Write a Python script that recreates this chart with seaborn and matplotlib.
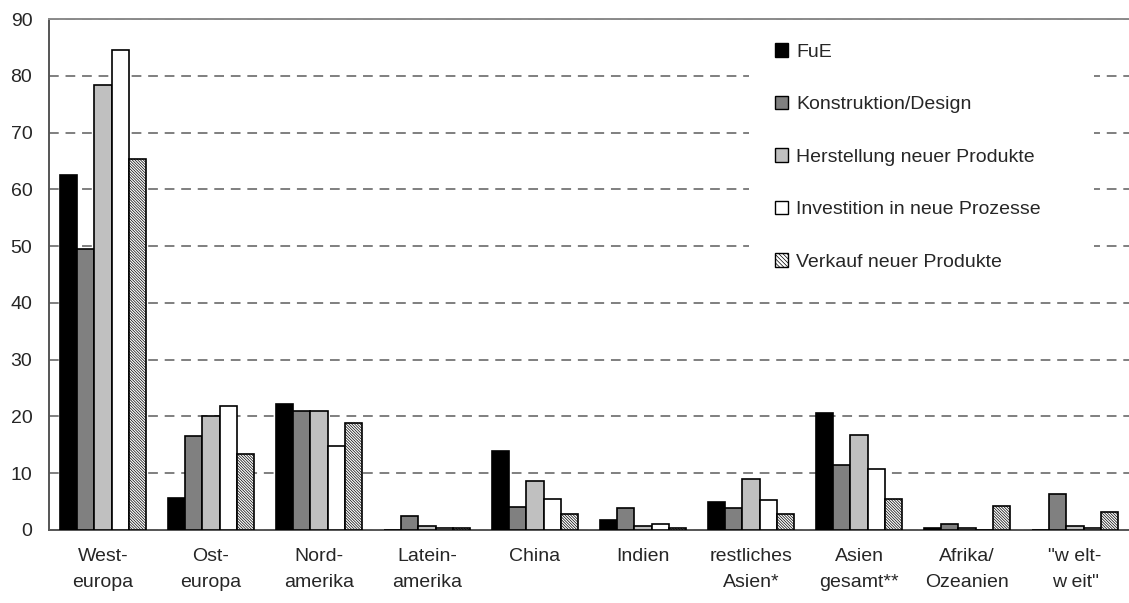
import matplotlib
matplotlib.use("Agg")
import matplotlib.pyplot as plt
import matplotlib.patches as mpatches
import seaborn as sns
import pandas as pd

# -------------------------------
# DATA
# -------------------------------
regions = ["West-\neuropa", "Ost-\neuropa", "Nord-\namerika", "Latein-\namerika",
           "China", "Indien", "restliches\nAsien*", "Asien\ngesamt**",
           "Afrika/\nOzeanien", "\"w elt-\nw eit\""]

series = ["FuE", "Konstruktion/Design", "Herstellung neuer Produkte",
          "Investition in neue Prozesse", "Verkauf neuer Produkte"]

fue = [62.6, 5.7, 22.2, 0.0, 13.9, 1.8, 4.9, 20.6, 0.35, 0.0]
konstruktion = [49.5, 16.5, 21.0, 2.4, 4.1, 3.8, 3.8, 11.4, 1.1, 6.3]
herstellung = [78.4, 20.1, 21.0, 0.7, 8.7, 0.7, 9.0, 16.8, 0.35, 0.7]
investition = [84.6, 21.8, 14.8, 0.35, 5.5, 1.0, 5.2, 10.8, 0.0, 0.35]
verkauf = [65.4, 13.3, 18.8, 0.35, 2.8, 0.35, 2.8, 5.5, 4.2, 3.1]

colors = ["#000000", "#808080", "#c0c0c0", "#ffffff", "#ffffff"]
HATCH = "\\" * 12

# -------------------------------
# BUILD TABLE
# -------------------------------
values = [fue, konstruktion, herstellung, investition, verkauf]
rows = []
for name, vals in zip(series, values):
    for reg, v in zip(regions, vals):
        rows.append({"Region": reg, "Kategorie": name, "Wert": v})
df = pd.DataFrame(rows)

# -------------------------------
# PLOT
# -------------------------------
sns.set_style("white")
plt.rcParams["font.family"] = ["Liberation Sans", "DejaVu Sans"]
plt.rcParams["hatch.linewidth"] = 0.5

fig = plt.figure(figsize=(11.29, 6.03), dpi=100)
ax = fig.add_axes([49 / 1129, 1 - 530 / 603, 1080 / 1129, 511 / 603])

sns.barplot(data=df, x="Region", y="Wert", hue="Kategorie", order=regions,
            hue_order=series, palette=dict(zip(series, colors)),
            edgecolor="black", linewidth=1.2, width=0.8, ax=ax, zorder=3)

# hatch for the last series
for patch in ax.containers[-1]:
    patch.set_hatch(HATCH)

ax.set_ylim(0, 90)
ax.set_yticks(range(0, 91, 10))
ax.set_xlim(-0.5, len(regions) - 0.5)
ax.yaxis.grid(True, linestyle=(0, (5, 3.5)), color="#7f7f7f", linewidth=1.4, zorder=0)
ax.xaxis.grid(False)
ax.set_axisbelow(True)

for side in ["left", "bottom", "top"]:
    ax.spines[side].set_visible(True)
    ax.spines[side].set_color("#555555")
    ax.spines[side].set_linewidth(1.4)
ax.spines["top"].set_color("#8a8a8a")
ax.spines["right"].set_visible(False)

ax.tick_params(axis="y", labelsize=14, length=0, pad=12)
ax.tick_params(axis="x", labelsize=14, length=0, pad=13)
for lab in ax.get_xticklabels():
    lab.set_linespacing(1.7)
ax.set_xlabel("")
ax.set_ylabel("")

# white area behind the legend (interrupts the grid lines)
ax.add_patch(mpatches.Rectangle((700 / 1080, 1 - 265 / 511), 345 / 1080, 255 / 511,
                                transform=ax.transAxes, facecolor="white",
                                edgecolor="none", zorder=1))

leg = ax.legend(loc="upper left", bbox_to_anchor=(0.672, 0.953), frameon=False,
                fontsize=14, labelspacing=1.8, handlelength=0.7, handleheight=0.7,
                handletextpad=0.4, borderpad=0, borderaxespad=0)
leg.set_zorder(5)
for h in leg.legend_handles:
    h.set_linewidth(1.0)
leg.legend_handles[-1].set_hatch("\\" * 8)

fig.savefig("out.png", dpi=100)
